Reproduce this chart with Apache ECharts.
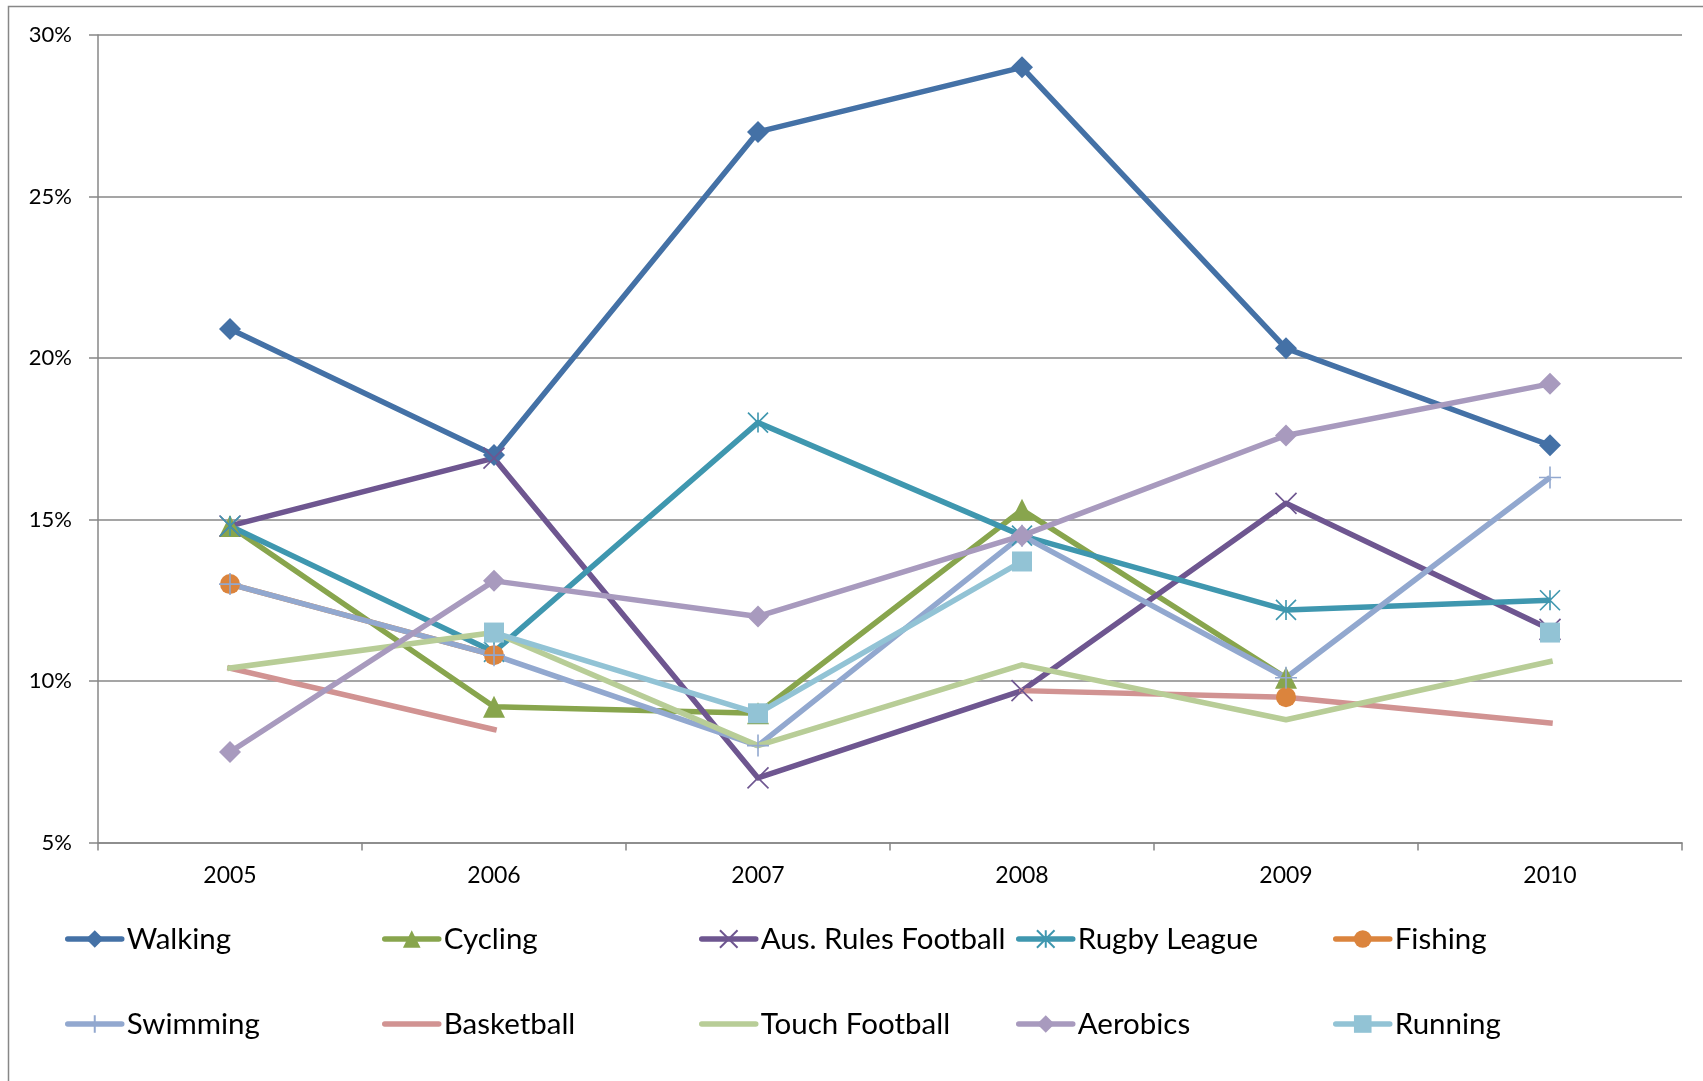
<!DOCTYPE html>
<html>
<head>
<meta charset="utf-8">
<title>Sport participation 2005–2010</title>
<script src="https://cdn.jsdelivr.net/npm/echarts@6/dist/echarts.min.js"></script>
<style>
  html, body { margin: 0; padding: 0; background: #ffffff; }
  #chart { width: 1703px; height: 1081px; }
</style>
</head>
<body>
<div id="chart"></div>
<script>
// Categories and series values (percent of participants)
const years = ['2005', '2006', '2007', '2008', '2009', '2010'];
const walking       = [20.9, 17.0, 27.0, 29.0, 20.3, 17.3];
const cycling       = [14.8, 9.2, 9.0, 15.3, 10.1, null];
const ausRules      = [14.8, 16.9, 7.0, 9.7, 15.5, 11.6];
const rugbyLeague   = [14.8, 10.9, 18.0, 14.5, 12.2, 12.5];
const fishing       = [13.0, 10.8, null, null, 9.5, null];
const swimming      = [13.0, 10.8, 8.0, 14.5, 10.1, 16.3];
const basketball    = [10.4, 8.5, null, 9.7, 9.5, 8.7];
const touchFootball = [10.4, 11.5, 8.0, 10.5, 8.8, 10.6];
const aerobics      = [7.8, 13.1, 12.0, 14.5, 17.6, 19.2];
const running       = [null, 11.5, 9.0, 13.7, null, 11.5];

// Value axis range
const yMin = 5;
const yMax = 30;
const yStep = 5;

const FONT = 'Lato, "Open Sans", sans-serif';
const GRAY = '#878787';
const LINE_W = 5.5;

// Stroked marker shapes
const SYM_X = 'path://M0,0L10,10M10,0L0,10';
const SYM_STAR = 'path://M0,0L10,10M10,0L0,10M5,0L5,10';
const SYM_PLUS = 'path://M5,0L5,10M0,5L10,5';

const seriesDefs = [
  { name: 'Walking',            data: walking,       color: '#4471A6', symbol: 'diamond',  size: 22 },
  { name: 'Cycling',            data: cycling,       color: '#88A54D', symbol: 'triangle', size: 22 },
  { name: 'Aus. Rules Football',data: ausRules,      color: '#6E5690', symbol: SYM_X,      size: 21, stroke: true },
  { name: 'Rugby League',       data: rugbyLeague,   color: '#3F97AF', symbol: SYM_STAR,   size: 20, stroke: true },
  { name: 'Fishing',            data: fishing,       color: '#DB843D', symbol: 'circle',   size: 20 },
  { name: 'Swimming',           data: swimming,      color: '#92A8CF', symbol: SYM_PLUS,   size: 22, stroke: true },
  { name: 'Basketball',         data: basketball,    color: '#D19392', symbol: 'none',     size: 0 },
  { name: 'Touch Football',     data: touchFootball, color: '#B8CD97', symbol: 'none',     size: 0 },
  { name: 'Aerobics',           data: aerobics,      color: '#A89ABE', symbol: 'diamond',  size: 22 },
  { name: 'Running',            data: running,       color: '#92C3D5', symbol: 'rect',     size: 20 }
];

const series = seriesDefs.map(function (d) {
  const itemStyle = { color: d.color };
  if (d.stroke) {
    itemStyle.borderColor = d.color;
    itemStyle.borderWidth = 1.6;
  } else {
    itemStyle.borderWidth = 0;
  }
  return {
    type: 'line',
    name: d.name,
    data: d.data,
    symbol: d.symbol,
    symbolSize: d.size,
    showSymbol: d.symbol !== 'none',
    showAllSymbol: true,
    connectNulls: false,
    animation: false,
    lineStyle: { color: d.color, width: LINE_W, join: 'round', cap: d.symbol === 'none' ? 'square' : 'butt' },
    itemStyle: itemStyle,
    emphasis: { disabled: true }
  };
});

// Legend laid out in fixed columns, two rows
const legendCols = 5;
const legends = seriesDefs.map(function (d, i) {
  const col = i % legendCols;
  const row = Math.floor(i / legendCols);
  const noMarker = d.symbol === 'none';
  return {
    data: [d.name],
    left: 65 + col * 317,
    top: 923 + row * 85,
    padding: 0,
    itemWidth: 54,
    itemHeight: 22,
    selectedMode: false,
    lineStyle: { cap: 'round', width: LINE_W, opacity: 1 },
    itemStyle: noMarker ? { opacity: 0 } : {},
    textStyle: { fontFamily: FONT, fontSize: 29.5, color: '#000', lineHeight: 32 }
  };
});

const chart = echarts.init(document.getElementById('chart'), null, { renderer: 'canvas' });
chart.setOption({
  backgroundColor: '#ffffff',
  animation: false,
  graphic: [{
    type: 'rect',
    shape: { x: 8.5, y: 6.5, width: 3000, height: 3000 },
    style: { fill: 'none', stroke: GRAY, lineWidth: 1.5 },
    silent: true
  }],
  grid: { left: 98, right: 21, top: 35, bottom: 238.5, containLabel: false },
  legend: legends,
  xAxis: {
    type: 'category',
    data: years,
    boundaryGap: true,
    axisLine: { show: true, lineStyle: { color: GRAY, width: 1.5 } },
    axisTick: { show: true, length: 8, interval: 0, alignWithLabel: false, lineStyle: { color: GRAY, width: 1.5 } },
    axisLabel: { fontFamily: FONT, fontSize: 23, color: '#000', margin: 22, interval: 0 },
    splitLine: { show: false }
  },
  yAxis: {
    type: 'value',
    min: yMin,
    max: yMax,
    interval: yStep,
    axisLine: { show: true, lineStyle: { color: GRAY, width: 1.5 } },
    axisTick: { show: true, length: 9, lineStyle: { color: GRAY, width: 1.5 } },
    axisLabel: { fontFamily: FONT, fontSize: 22, color: '#000', margin: 26, formatter: '{value}%' },
    splitLine: { show: true, lineStyle: { color: GRAY, width: 1.5 } }
  },
  series: series
});
</script>
</body>
</html>
